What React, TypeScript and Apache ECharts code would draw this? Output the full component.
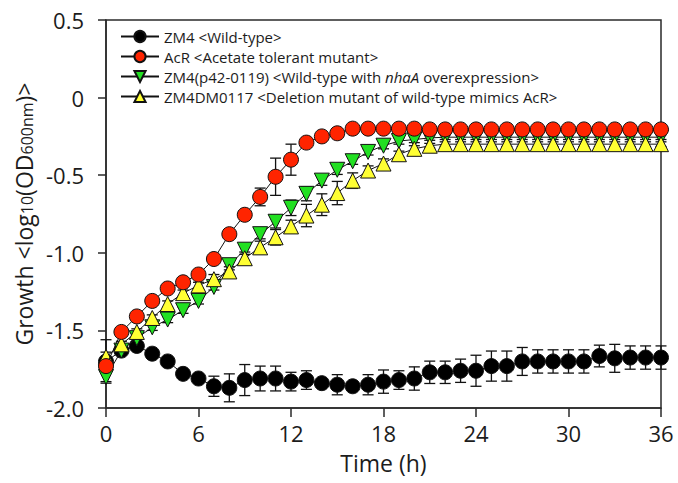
import React, { useEffect, useRef } from "react";
import * as echarts from "echarts";

const hours = [0,1,2,3,4,5,6,7,8,9,10,11,12,13,14,15,16,17,18,19,20,21,22,23,24,25,26,27,28,29,30,31,32,33,34,35,36];

const zm4 = [-1.70,-1.63,-1.60,-1.65,-1.70,-1.78,-1.81,-1.86,-1.87,-1.82,-1.81,-1.81,-1.83,-1.82,-1.84,-1.85,-1.86,-1.85,-1.83,-1.82,-1.81,-1.77,-1.77,-1.76,-1.76,-1.73,-1.73,-1.70,-1.70,-1.70,-1.70,-1.70,-1.665,-1.68,-1.675,-1.675,-1.675];
const zm4Err = [0.14,0.02,0.02,0.02,0.02,0.02,0.02,0.065,0.09,0.10,0.08,0.08,0.06,0.06,0.02,0.065,0.02,0.065,0.075,0.06,0.075,0.072,0.072,0.075,0.10,0.097,0.097,0.09,0.075,0.075,0.075,0.075,0.07,0.09,0.075,0.075,0.075];

const acr = [-1.73,-1.51,-1.41,-1.31,-1.23,-1.19,-1.14,-1.04,-0.88,-0.755,-0.64,-0.51,-0.40,-0.29,-0.25,-0.23,-0.20,-0.20,-0.20,-0.20,-0.20,-0.205,-0.205,-0.205,-0.205,-0.205,-0.205,-0.205,-0.205,-0.205,-0.205,-0.205,-0.205,-0.205,-0.205,-0.205,-0.205];
const acrErr = [0.02,0.015,0.015,0.015,0.015,0.015,0.015,0.015,0.02,0.02,0.057,0.12,0.10,0.03,0.015,0.015,0.015,0.015,0.015,0.015,0.015,0.015,0.015,0.015,0.015,0.015,0.015,0.015,0.015,0.015,0.015,0.015,0.015,0.015,0.015,0.015,0.015];

const p42 = [-1.80,-1.63,-1.55,-1.48,-1.43,-1.37,-1.31,-1.22,-1.08,-0.98,-0.88,-0.80,-0.71,-0.62,-0.535,-0.465,-0.41,-0.35,-0.31,-0.28,-0.27,-0.26,-0.255,-0.255,-0.255,-0.255,-0.255,-0.255,-0.255,-0.255,-0.255,-0.255,-0.255,-0.255,-0.255,-0.255,-0.255];
const p42Err = [0.03,0.02,0.02,0.02,0.02,0.02,0.02,0.02,0.03,0.03,0.03,0.04,0.05,0.045,0.03,0.03,0.02,0.02,0.02,0.02,0.02,0.015,0.015,0.015,0.015,0.015,0.015,0.015,0.015,0.015,0.015,0.015,0.015,0.015,0.015,0.015,0.015];

const dm0117 = [-1.67,-1.59,-1.51,-1.42,-1.33,-1.26,-1.21,-1.17,-1.12,-1.035,-0.965,-0.90,-0.83,-0.76,-0.69,-0.615,-0.535,-0.47,-0.425,-0.365,-0.33,-0.31,-0.30,-0.30,-0.30,-0.30,-0.30,-0.30,-0.30,-0.30,-0.30,-0.30,-0.30,-0.30,-0.30,-0.30,-0.30];
const dm0117Err = [0.03,0.02,0.02,0.02,0.02,0.02,0.02,0.03,0.03,0.04,0.04,0.05,0.04,0.072,0.07,0.075,0.05,0.03,0.03,0.02,0.02,0.015,0.015,0.015,0.015,0.015,0.015,0.015,0.015,0.015,0.015,0.015,0.015,0.015,0.015,0.015,0.015];

const seriesNames = [
  "ZM4 <Wild-type>",
  "AcR <Acetate tolerant mutant>",
  "ZM4(p42-0119) <Wild-type with nhaA overexpression>",
  "ZM4DM0117 <Deletion mutant of wild-type mimics AcR>",
];

const yTicks = ["-2.0", "-1.5", "-1.0", "-0.5", "0", "0.5"];

const FONT = "'Open Sans', 'Noto Sans', sans-serif";
const TXT = "#1c1c1c";

export default function App() {
  const ref = useRef<HTMLDivElement>(null);
  useEffect(() => {
    if (!ref.current) return;
    const chart = echarts.init(ref.current, null, { renderer: "svg" });

    const pts = (vals: number[]) => hours.map((h, i) => [h, vals[i]]);
    const errPts = (vals: number[], errs: number[]) => hours.map((h, i) => [h, vals[i], errs[i]]);

    const errSeries = (vals: number[], errs: number[], z: number) => ({
      type: "custom",
      silent: true,
      z,
      encode: { x: 0, y: 1 },
      data: errPts(vals, errs),
      renderItem: (params: any, api: any) => {
        const x = api.value(0);
        const y = api.value(1);
        const e = api.value(2);
        const top = api.coord([x, y + e]);
        const bot = api.coord([x, y - e]);
        const cw = 5.5;
        const st = { stroke: "#111", lineWidth: 1.3 };
        return {
          type: "group",
          children: [
            { type: "line", shape: { x1: top[0], y1: top[1], x2: bot[0], y2: bot[1] }, style: st },
            { type: "line", shape: { x1: top[0] - cw, y1: top[1], x2: top[0] + cw, y2: top[1] }, style: st },
            { type: "line", shape: { x1: bot[0] - cw, y1: bot[1], x2: bot[0] + cw, y2: bot[1] }, style: st },
          ],
        };
      },
    });

    const lineSeries = (name: string, vals: number[], color: string, symbol: string, rotate: number, size: number, z: number) => ({
      type: "line",
      name,
      z,
      data: pts(vals),
      symbol,
      symbolSize: size,
      symbolRotate: rotate,
      showAllSymbol: true,
      lineStyle: { color: "#111", width: 1 },
      itemStyle: { color, borderColor: "#111", borderWidth: 1 },
      emphasis: { disabled: true },
    });

    chart.setOption({
      animation: false,
      backgroundColor: "#fff",
      textStyle: { fontFamily: FONT },
      grid: {
        left: 106,
        right: 17,
        top: 20,
        bottom: 75,
        show: true,
        borderColor: "#2a2a2a",
        borderWidth: 1.5,
        backgroundColor: "transparent",
      },
      legend: {
        orient: "vertical",
        left: 115,
        top: 24,
        itemWidth: 38,
        itemHeight: 14,
        itemGap: 5,
        selectedMode: false,
        data: seriesNames,
        textStyle: {
          fontFamily: FONT,
          fontSize: 15,
          color: TXT,
          rich: {
            n: { fontFamily: FONT, fontSize: 15, color: TXT },
            i: { fontFamily: FONT, fontSize: 15, color: TXT, fontStyle: "italic" },
          },
        },
        formatter: (name: string) => {
          if (name.indexOf("nhaA") >= 0) {
            const [a, b] = name.split("nhaA");
            return `{n|${a}}{i|nhaA}{n|${b}}`;
          }
          return `{n|${name}}`;
        },
      },
      xAxis: {
        type: "value",
        min: 0,
        max: 36,
        interval: 6,
        name: "Time (h)",
        nameLocation: "middle",
        nameGap: 43,
        nameTextStyle: { fontFamily: FONT, fontSize: 23, color: TXT },
        axisLine: { onZero: false, lineStyle: { color: "#2a2a2a", width: 1.5 } },
        axisTick: { inside: false, length: 9, lineStyle: { color: "#2a2a2a", width: 1.5 } },
        axisLabel: { fontFamily: FONT, fontSize: 22, color: TXT, margin: 14 },
        splitLine: { show: false },
      },
      yAxis: {
        type: "value",
        min: -2,
        max: 0.5,
        interval: 0.5,
        name: "Growth <log{s|10}(OD{s|600nm})>",
        nameLocation: "middle",
        nameGap: 70,
        nameTextStyle: {
          fontFamily: FONT,
          fontSize: 23,
          color: TXT,
          rich: {
            s: { fontFamily: FONT, fontSize: 16, color: TXT, verticalAlign: "bottom", lineHeight: 12 },
          },
        },
        axisLine: { onZero: false, lineStyle: { color: "#2a2a2a", width: 1.5 } },
        axisTick: { inside: false, length: 8, lineStyle: { color: "#2a2a2a", width: 1.5 } },
        axisLabel: {
          fontFamily: FONT,
          fontSize: 22,
          color: TXT,
          margin: 22,
          formatter: (v: number) => {
            const idx = Math.round((v + 2) / 0.5);
            return yTicks[idx] ?? String(v);
          },
        },
        splitLine: { show: false },
      },
      series: [
        errSeries(zm4, zm4Err, 1),
        errSeries(p42, p42Err, 1),
        errSeries(dm0117, dm0117Err, 1),
        errSeries(acr, acrErr, 1),
        lineSeries(seriesNames[0], zm4, "#000000", "circle", 0, 15, 2),
        lineSeries(seriesNames[1], acr, "#ff2400", "circle", 0, 15, 5),
        lineSeries(seriesNames[2], p42, "#22e022", "triangle", 180, 15, 3),
        lineSeries(seriesNames[3], dm0117, "#ffff33", "triangle", 0, 15, 4),
      ],
    });
    return () => chart.dispose();
  }, []);
  return <div ref={ref} style={{ width: 678, height: 483, position: "absolute", left: 0, top: 0 }} />;
}
